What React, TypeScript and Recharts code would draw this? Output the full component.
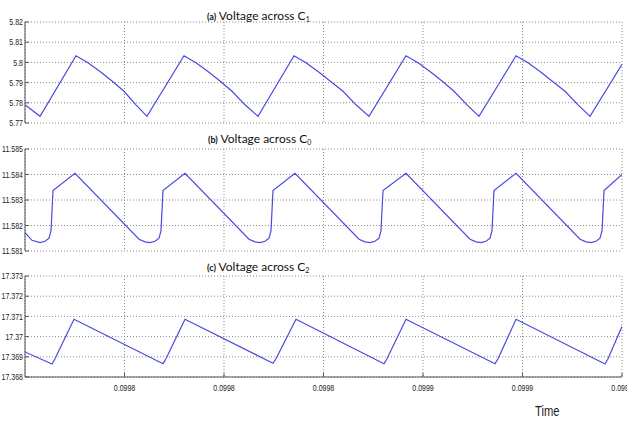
import { CartesianGrid, Line, LineChart, XAxis, YAxis } from "recharts";

// time in µs after 0.09978 s
const timeTicks = [20, 40, 60, 80, 100, 120];
const timeTickLabels = ["0.0998", "0.0998", "0.0998", "0.0999", "0.0999", "0.0999"];

// (a) voltage across C1
const timeC1 = [
  0, 3.02, 10.25, 12.66, 15.08, 17.49, 19.9, 22.31, 24.52, 31.96, 34.37, 36.78, 39.2,
  41.61, 44.22, 46.84, 54.07, 56.48, 58.9, 61.31, 63.92, 66.53, 69.15, 76.58, 79.0,
  81.41, 83.82, 86.23, 88.85, 91.26, 98.7, 101.11, 103.52, 105.93, 108.55, 111.16,
  113.57, 120,
];
const voltageC1 = [
  5.779, 5.7733, 5.8033, 5.7998, 5.7955, 5.7908, 5.7857, 5.779, 5.7733, 5.8033, 5.7998,
  5.7955, 5.7908, 5.7857, 5.779, 5.7733, 5.8033, 5.7998, 5.7955, 5.7908, 5.7857, 5.779,
  5.7733, 5.8033, 5.7998, 5.7955, 5.7908, 5.7857, 5.779, 5.7733, 5.8033, 5.7998, 5.7955,
  5.7908, 5.7857, 5.779, 5.7733, 5.799,
];
const ticksC1 = [5.77, 5.78, 5.79, 5.8, 5.81, 5.82];

// (b) voltage across C0
const timeC0 = [
  0, 1.41, 3.02, 4.02, 4.82, 5.23, 5.63, 10.05,
  22.92, 24.12, 25.13, 26.13, 26.94, 27.34, 27.74, 32.16,
  45.03, 46.23, 47.24, 48.24, 49.05, 49.45, 49.85, 54.27,
  67.14, 68.34, 69.35, 70.35, 71.16, 71.56, 71.96, 76.58,
  89.45, 90.66, 91.66, 92.67, 93.47, 93.87, 94.27, 98.7,
  111.57, 112.77, 113.77, 114.78, 115.58, 115.99, 116.39, 120,
];
const voltageC0 = [
  11.58172, 11.58142, 11.58133, 11.58138, 11.5815, 11.5818, 11.58337, 11.58405,
  11.58146, 11.58136, 11.58133, 11.58138, 11.5815, 11.5818, 11.58337, 11.58405,
  11.58146, 11.58136, 11.58133, 11.58138, 11.5815, 11.5818, 11.58337, 11.58405,
  11.58146, 11.58136, 11.58133, 11.58138, 11.5815, 11.5818, 11.58337, 11.58405,
  11.58146, 11.58136, 11.58133, 11.58138, 11.5815, 11.5818, 11.58337, 11.58405,
  11.58146, 11.58136, 11.58133, 11.58138, 11.5815, 11.5818, 11.58337, 11.584,
];
const ticksC0 = [11.581, 11.582, 11.583, 11.584, 11.585];

// (c) voltage across C2
const timeC2 = [
  0, 5.43, 6.03, 9.85, 27.74, 28.34, 32.16, 49.85, 50.45, 54.47, 72.16, 72.77, 76.58,
  94.47, 95.08, 98.7, 116.59, 117.19, 120,
];
const voltageC2 = [
  17.36924, 17.36864, 17.3689, 17.37086, 17.36866, 17.3689, 17.37086, 17.36868, 17.3689,
  17.37086, 17.36866, 17.3689, 17.37086, 17.36866, 17.3689, 17.37086, 17.36864, 17.3689,
  17.3705,
];
const ticksC2 = [17.368, 17.369, 17.37, 17.371, 17.372, 17.373];

const sans = "'Liberation Sans', Arial, sans-serif";
const frame = "#555";

// narrow (Arial Narrow-like) tick text
function YTick({ x, y, payload }: any) {
  return (
    <text
      transform={`translate(${x},${y}) scale(0.78,1)`}
      textAnchor="end"
      dy="0.35em"
      fontSize={9}
      fontFamily={sans}
      fill="#222"
    >
      {String(payload.value)}
    </text>
  );
}

function XTick({ x, y, payload }: any) {
  return (
    <text
      transform={`translate(${x},${y}) scale(0.78,1)`}
      textAnchor="middle"
      dy="0.75em"
      fontSize={9}
      fontFamily={sans}
      fill="#222"
    >
      {timeTickLabels[timeTicks.indexOf(payload.value)]}
    </text>
  );
}

const NoTick = () => <g />;

function Panel({ times, values, yTicks, top, plotHeight, showTime }: any) {
  const data = times.map((t: number, i: number) => ({ t, v: values[i] }));
  const marginTop = 10;
  const bottom = showTime ? 28 : 6;
  const yDomain = [yTicks[0], yTicks[yTicks.length - 1]];
  return (
    <div style={{ position: "absolute", left: 0, top: top - marginTop }}>
      <LineChart
        width={627}
        height={plotHeight + marginTop + bottom}
        data={data}
        margin={{ top: marginTop, right: 5, left: 0, bottom: showTime ? 0 : bottom }}
      >
        <CartesianGrid stroke="#8a8a8a" strokeDasharray="1 2" />
        <XAxis
          dataKey="t"
          type="number"
          domain={[0, 120]}
          ticks={timeTicks}
          interval={0}
          allowDataOverflow
          height={showTime ? 28 : 0}
          stroke={frame}
          tickSize={-4}
          tickMargin={11}
          tick={showTime ? <XTick /> : NoTick}
        />
        <XAxis
          xAxisId="top"
          dataKey="t"
          type="number"
          orientation="top"
          mirror
          domain={[0, 120]}
          ticks={timeTicks}
          interval={0}
          allowDataOverflow
          height={0}
          stroke={frame}
          tickSize={4}
          tick={NoTick}
        />
        <YAxis
          type="number"
          domain={yDomain}
          ticks={yTicks}
          interval={0}
          allowDataOverflow
          width={25}
          stroke={frame}
          tickSize={-4}
          tickMargin={6}
          tick={<YTick />}
        />
        <YAxis
          yAxisId="right"
          type="number"
          orientation="right"
          mirror
          domain={yDomain}
          ticks={yTicks}
          interval={0}
          allowDataOverflow
          width={0}
          stroke={frame}
          tickSize={4}
          tick={NoTick}
        />
        <Line
          type="linear"
          dataKey="v"
          stroke="#4a4ae0"
          strokeWidth={1.2}
          dot={false}
          isAnimationActive={false}
        />
      </LineChart>
    </div>
  );
}

function Title({ letter, sub, left, top }: any) {
  return (
    <div
      style={{
        position: "absolute",
        left,
        top,
        fontFamily: "Lato, 'Open Sans', sans-serif",
        fontSize: 12,
        color: "#111",
        whiteSpace: "nowrap",
        lineHeight: "14px",
      }}
    >
      <span style={{ fontSize: 9, fontWeight: 700 }}>({letter})</span> Voltage across C
      <sub style={{ fontSize: 7, verticalAlign: "-2px" }}>{sub}</sub>
    </div>
  );
}

export default function App() {
  return (
    <div
      style={{
        position: "absolute",
        left: 0,
        top: 0,
        width: 627,
        height: 425,
        background: "#fff",
        overflow: "hidden",
      }}
    >
      <Panel times={timeC1} values={voltageC1} yTicks={ticksC1} top={22} plotHeight={101} />
      <Panel times={timeC0} values={voltageC0} yTicks={ticksC0} top={149} plotHeight={102} />
      <Panel times={timeC2} values={voltageC2} yTicks={ticksC2} top={276} plotHeight={101} showTime />
      <Title letter="a" sub="1" left={207} top={9} />
      <Title letter="b" sub="0" left={208} top={132} />
      <Title letter="c" sub="2" left={207} top={260} />
      <div
        style={{
          position: "absolute",
          left: 535,
          top: 403,
          fontFamily: sans,
          fontSize: 14,
          color: "#222",
          transform: "scaleX(0.8)",
          transformOrigin: "left top",
        }}
      >
        Time
      </div>
    </div>
  );
}
